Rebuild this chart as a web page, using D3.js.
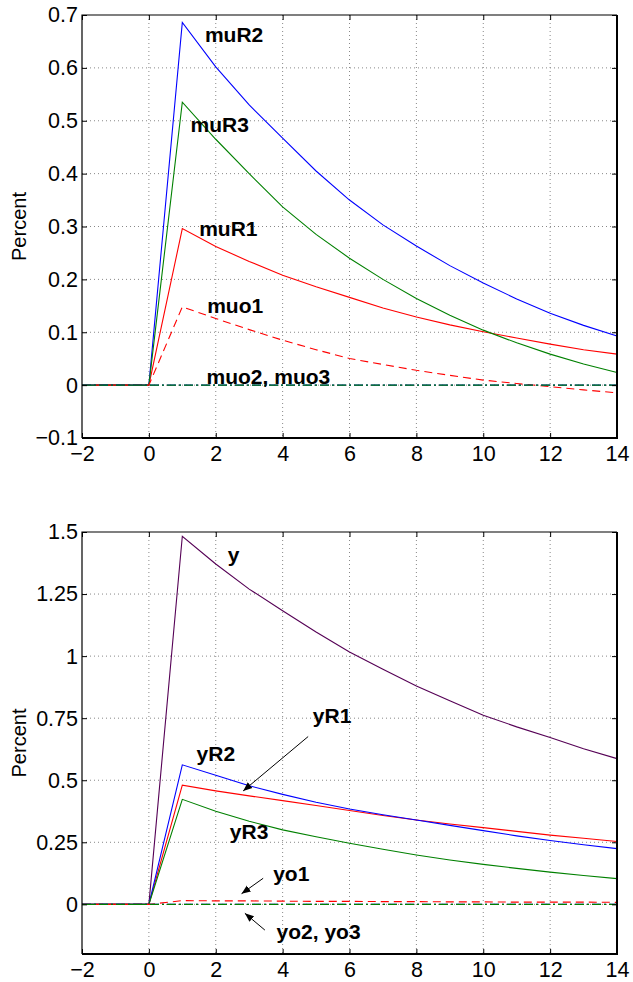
<!DOCTYPE html>
<html>
<head>
<meta charset="utf-8">
<script src="https://cdn.jsdelivr.net/npm/d3@7"></script>
<style>
  body { margin: 0; background: #fff; }
  text { font-family: "Liberation Sans", Arial, Helvetica, sans-serif; }
</style>
</head>
<body>
<div id="chart"></div>
<script>
// ---- data ----
const periods = [-2, -1, 0, 1, 2, 3, 4, 5, 6, 7, 8, 9, 10, 11, 12, 13, 14]

// top panel (mu)
const muR1 = [0, 0, 0, 0.296, 0.262, 0.234, 0.208, 0.186, 0.166, 0.146, 0.129, 0.114, 0.101, 0.089, 0.0775, 0.067, 0.0586]
const muR2 = [0, 0, 0, 0.686, 0.602, 0.53, 0.467, 0.405, 0.35, 0.303, 0.263, 0.226, 0.193, 0.163, 0.136, 0.113, 0.093]
const muR3 = [0, 0, 0, 0.535, 0.465, 0.4, 0.337, 0.285, 0.24, 0.2, 0.164, 0.132, 0.104, 0.08, 0.0586, 0.04, 0.024]
const muo1 = [0, 0, 0, 0.148, 0.126, 0.105, 0.085, 0.067, 0.0504, 0.039, 0.028, 0.0185, 0.0095, 0.003, -0.003, -0.009, -0.0145]
const muo2 = [0, 0, 0, 0, 0, 0, 0, 0, 0, 0, 0, 0, 0, 0, 0, 0, 0]
const muo3 = [0, 0, 0, 0, 0, 0, 0, 0, 0, 0, 0, 0, 0, 0, 0, 0, 0]

// bottom panel (y)
const yTotal = [0, 0, 0, 1.483, 1.371, 1.27, 1.183, 1.097, 1.017, 0.947, 0.88, 0.82, 0.762, 0.715, 0.672, 0.627, 0.587]
const yR1 = [0, 0, 0, 0.48, 0.457, 0.437, 0.418, 0.398, 0.378, 0.358, 0.34, 0.324, 0.309, 0.294, 0.279, 0.266, 0.253]
const yR2 = [0, 0, 0, 0.562, 0.52, 0.478, 0.443, 0.411, 0.384, 0.361, 0.34, 0.318, 0.297, 0.276, 0.257, 0.24, 0.2245]
const yR3 = [0, 0, 0, 0.423, 0.375, 0.335, 0.3, 0.272, 0.246, 0.222, 0.199, 0.179, 0.161, 0.145, 0.13, 0.116, 0.1035]
const yo1 = [0, 0, 0, 0.015, 0.014, 0.014, 0.013, 0.012, 0.012, 0.011, 0.011, 0.01, 0.01, 0.009, 0.009, 0.009, 0.008]
const yo2 = [0, 0, 0, 0, 0, 0, 0, 0, 0, 0, 0, 0, 0, 0, 0, 0, 0]
const yo3 = [0, 0, 0, 0, 0, 0, 0, 0, 0, 0, 0, 0, 0, 0, 0, 0, 0]

// ticks
const xTicks = [-2, 0, 2, 4, 6, 8, 10, 12, 14]
const topYTicks = [-0.1, 0, 0.1, 0.2, 0.3, 0.4, 0.5, 0.6, 0.7]
const bottomYTicks = [0, 0.25, 0.5, 0.75, 1, 1.25, 1.5]

// labels: [text, x, y] in data units; arrows: [x1, y1, x2, y2]
const topLabels = [
  ["muR2", 1.675, 0.649],
  ["muR3", 1.247, 0.479],
  ["muR1", 1.504, 0.282],
  ["muo1", 1.743, 0.1356],
  ["muo2, muo3", 1.725, 0.003]
]
const bottomLabels = [
  ["y", 2.362, 1.379],
  ["yR1", 4.904, 0.73],
  ["yR2", 1.426, 0.578],
  ["yR3", 2.422, 0.262],
  ["yo1", 3.717, 0.094],
  ["yo2, yo3", 3.819, -0.141]
]
const bottomArrows = [
  [4.764, 0.676, 2.82, 0.457],
  [3.418, 0.105, 2.772, 0.043],
  [3.469, -0.1036, 2.871, -0.036]
]

// ---- chart ----
const width = 633
const height = 982

const RED = "#ff0000", BLUE = "#0000ff", GREEN = "#008000", PURPLE = "#550055"
const DASH = "8,5", DASHDOT = "9,3,2,3"

const svg = d3.select("#chart")
  .append("svg")
    .attr("width", width)
    .attr("height", height)

svg.append("defs").append("marker")
    .attr("id", "arrow")
    .attr("viewBox", "0 0 10 10")
    .attr("refX", 10)
    .attr("refY", 5)
    .attr("markerWidth", 9)
    .attr("markerHeight", 9)
    .attr("markerUnits", "userSpaceOnUse")
    .attr("orient", "auto")
  .append("path")
    .attr("d", "M0,1 L10,5 L0,9 Z")
    .attr("fill", "#000")

const fmt = d => d < 0 ? "\u2212" + Math.abs(d) : String(d)

function drawPanel(cfg) {
  const x = d3.scaleLinear().domain([-2, 14]).range([82, 617])
  const y = d3.scaleLinear().domain(cfg.yDomain).range([cfg.bottom, cfg.top])
  const g = svg.append("g")

  // grid
  g.selectAll(".vgrid")
    .data(xTicks.slice(1, -1))
    .enter().append("line")
      .attr("x1", d => x(d)).attr("x2", d => x(d))
      .attr("y1", cfg.top).attr("y2", cfg.bottom)
      .attr("stroke", "#888").attr("stroke-width", 1)
      .attr("stroke-dasharray", "1,3")
  g.selectAll(".hgrid")
    .data(cfg.yTicks.filter(d => y(d) > cfg.top + 1))
    .enter().append("line")
      .attr("x1", 82).attr("x2", 617)
      .attr("y1", d => y(d)).attr("y2", d => y(d))
      .attr("stroke", "#888").attr("stroke-width", 1)
      .attr("stroke-dasharray", "1,3")

  // series
  const line = d3.line()
    .x((d, i) => x(periods[i]))
    .y(d => y(d))
  cfg.series.forEach(s => {
    g.append("path")
      .attr("d", line(s.values))
      .attr("fill", "none")
      .attr("stroke", s.color)
      .attr("stroke-width", 1.1)
      .attr("stroke-dasharray", s.dash || null)
  })

  // axes (ticks pointing inward)
  const styleAxis = sel => {
    sel.select(".domain").remove()
    sel.selectAll(".tick line").attr("stroke", "#000")
    sel.selectAll(".tick text")
      .attr("fill", "#000")
      .style("font-size", "21.5px")
      .style("font-family", "'Liberation Sans', Arial, sans-serif")
  }
  g.append("g")
    .attr("transform", `translate(0,${cfg.bottom})`)
    .call(d3.axisBottom(x).tickValues(xTicks).tickFormat(fmt).tickSize(-5).tickPadding(8))
    .call(styleAxis)
  g.append("g")
    .attr("transform", `translate(0,${cfg.top})`)
    .call(d3.axisTop(x).tickValues(xTicks).tickFormat("").tickSize(-5))
    .call(styleAxis)
  g.append("g")
    .attr("transform", "translate(82,0)")
    .call(d3.axisLeft(y).tickValues(cfg.yTicks).tickFormat(fmt).tickSize(-5).tickPadding(4))
    .call(styleAxis)
  g.append("g")
    .attr("transform", "translate(617,0)")
    .call(d3.axisRight(y).tickValues(cfg.yTicks).tickFormat("").tickSize(-5))
    .call(styleAxis)

  // box
  g.append("path")
    .attr("d", `M82,${cfg.bottom} V${cfg.top} H617`)
    .attr("fill", "none").attr("stroke", "#000").attr("stroke-width", 1.2)
  g.append("path")
    .attr("d", `M82,${cfg.bottom} H617 V${cfg.top}`)
    .attr("fill", "none").attr("stroke", "#000").attr("stroke-width", 2)

  // y label
  g.append("text")
    .attr("transform", `translate(26,${(cfg.top + cfg.bottom) / 2}) rotate(-90)`)
    .attr("text-anchor", "middle")
    .style("font-size", "20px")
    .text("Percent")

  // annotations
  g.selectAll(".lbl")
    .data(cfg.labels)
    .enter().append("text")
      .attr("x", d => x(d[1]))
      .attr("y", d => y(d[2]))
      .style("font-size", "21px")
      .style("font-weight", "bold")
      .text(d => d[0])
  g.selectAll(".arr")
    .data(cfg.arrows || [])
    .enter().append("line")
      .attr("x1", d => x(d[0])).attr("y1", d => y(d[1]))
      .attr("x2", d => x(d[2])).attr("y2", d => y(d[3]))
      .attr("stroke", "#000").attr("stroke-width", 1)
      .attr("marker-end", "url(#arrow)")
}

drawPanel({
  top: 15, bottom: 438,
  yDomain: [-0.1, 0.7],
  yTicks: topYTicks,
  series: [
    { values: muR1, color: RED },
    { values: muR2, color: BLUE },
    { values: muR3, color: GREEN },
    { values: muo1, color: RED, dash: DASH },
    { values: muo2, color: BLUE, dash: DASHDOT },
    { values: muo3, color: GREEN, dash: DASHDOT }
  ],
  labels: topLabels
})

drawPanel({
  top: 532, bottom: 954,
  yDomain: [-0.2, 1.5],
  yTicks: bottomYTicks,
  series: [
    { values: yTotal, color: PURPLE },
    { values: yR1, color: RED },
    { values: yR2, color: BLUE },
    { values: yR3, color: GREEN },
    { values: yo1, color: RED, dash: DASH },
    { values: yo2, color: BLUE, dash: DASHDOT },
    { values: yo3, color: GREEN, dash: DASHDOT }
  ],
  labels: bottomLabels,
  arrows: bottomArrows
})
</script>
</body>
</html>
